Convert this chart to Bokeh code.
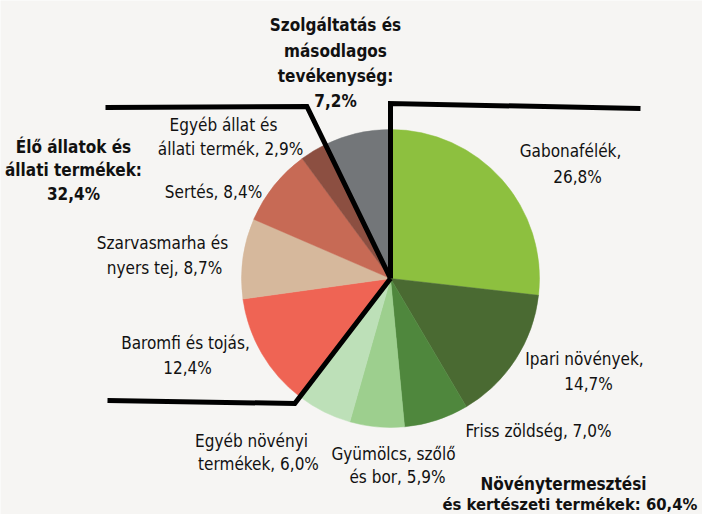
import math
from bokeh.plotting import figure
from bokeh.models import Range1d
from bokeh.core.properties import value
from bokeh.embed import file_html
from bokeh.resources import INLINE

# ---------------- data ----------------
categories = ["Gabonafélék", "Ipari növények", "Friss zöldség", "Gyümölcs, szőlő és bor",
              "Egyéb növényi termékek", "Baromfi és tojás", "Szarvasmarha és nyers tej",
              "Sertés", "Egyéb állat és állati termék", "Szolgáltatás és másodlagos tevékenység"]
shares = [26.8, 14.7, 7.0, 5.9, 6.0, 12.4, 8.7, 8.4, 2.9, 7.2]
label_first = ["Gabonafélék,", "Ipari növények,", "Friss zöldség,", "Gyümölcs, szőlő",
               "Egyéb növényi", "Baromfi és tojás,", "Szarvasmarha és", "Sertés,",
               "Egyéb állat és", None]
label_second = ["", "", None, "és bor,", "termékek,", "", "nyers tej,", None,
                "állati termék,", None]
groups = ["Növénytermesztési és kertészeti termékek", "Élő állatok és állati termékek",
          "Szolgáltatás és másodlagos tevékenység"]
group_totals = [60.4, 32.4, 7.2]

colors = ["#8dc03f", "#4a6a32", "#4f873d", "#9dcf8e", "#bde0b8",
          "#ef6454", "#d6b89c", "#c76a55", "#8c4f41", "#737679"]

def pct(v):
    return f"{v:.1f}".replace(".", ",") + "%"

W, H = 702, 514
BG = "#f6f5f3"
FONT = value("DejaVu Sans Condensed")
FS = "17px"

def P(px, py):
    return px, H - py

p = figure(width=W, height=H, x_range=Range1d(0, W), y_range=Range1d(0, H),
           output_backend="svg", toolbar_location=None, min_border=0,
           background_fill_color=BG, border_fill_color=BG, outline_line_color=None)
p.axis.visible = False
p.grid.visible = False

CXp, CYp, R = 390, 278, 149
cx, cy = P(CXp, CYp)

total = sum(shares)
cum = [0.0]
for s in shares:
    cum.append(cum[-1] + s / total)
starts = [math.pi / 2 - 2 * math.pi * c for c in cum[:-1]]
ends = [math.pi / 2 - 2 * math.pi * c for c in cum[1:]]

p.wedge(x=cx, y=cy, radius=R, radius_units="screen", start_angle=starts, end_angle=ends,
        direction="clock", fill_color=colors, line_color=colors, line_width=0.5)

# group separator lines (from group boundaries)
def ray_to(frac, py):
    th = 2 * math.pi * frac
    dx, dy = math.sin(th), -math.cos(th)
    t = (py - CYp) / dy
    return CXp + t * dx

b_plant = 0.0
b_anim_start = cum[5]
b_serv = cum[9]

def seg(pts):
    xs, ys = zip(*[P(a, b) for a, b in pts])
    p.line(list(xs), list(ys), line_color="black", line_width=5, line_join="miter")

seg([(CXp, CYp), (ray_to(b_plant, 103), 103), (640, 108)])
seg([(CXp, CYp), (ray_to(b_serv, 106), 106), (105, 107)])
seg([(CXp, CYp), (ray_to(b_anim_start, 403), 403), (107, 400)])

# ---------------- labels ----------------
def txt(px, py, s, bold=False, align="center", size=FS):
    x, y = P(px, py)
    p.text(x=[x], y=[y], text=[s], text_font=FONT, text_font_size=size,
           text_font_style="bold" if bold else "normal", text_align=align,
           text_baseline="middle", text_color="#111111")

# slice labels
txt(570, 150, label_first[0])
txt(577, 176, pct(shares[0]))
txt(584, 358, label_first[1])
txt(588, 383, pct(shares[1]))
txt(538, 430, label_first[2] + " " + pct(shares[2]))
txt(393, 453, label_first[3])
txt(397, 476, label_second[3] + " " + pct(shares[3]))
txt(251, 440, label_first[4])
txt(258, 463, label_second[4] + " " + pct(shares[4]))
txt(185, 342, label_first[5])
txt(187, 367, pct(shares[5]))
txt(162, 242, label_first[6])
txt(164, 267, label_second[6] + " " + pct(shares[6]))
txt(213, 191, label_first[7] + " " + pct(shares[7]))
txt(223, 124, label_first[8])
txt(230, 148, label_second[8] + " " + pct(shares[8]))

# group labels
txt(335, 24, "Szolgáltatás és", bold=True)
txt(335, 50, "másodlagos", bold=True)
txt(335, 75, "tevékenység:", bold=True)
txt(335, 100, pct(group_totals[2]), bold=True)
txt(73, 146, "Élő állatok és", bold=True)
txt(73, 169, "állati termékek:", bold=True)
txt(73, 193, pct(group_totals[1]), bold=True)
txt(563, 483, "Növénytermesztési", bold=True)
txt(572, 504, "és kertészeti termékek:  " + pct(group_totals[0]), bold=True, size="16.5px")

open("out.html", "w").write(file_html(p, INLINE))
